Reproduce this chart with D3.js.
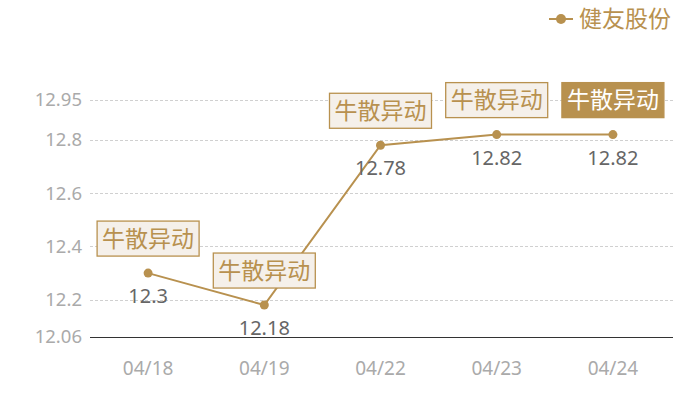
<!DOCTYPE html>
<html>
<head>
<meta charset="utf-8">
<script src="https://cdn.jsdelivr.net/npm/d3@7"></script>
<style>
html,body{margin:0;padding:0;background:#fff;}
svg{display:block;font-family:"Noto Sans CJK SC","Noto Sans",sans-serif;}
</style>
</head>
<body>
<svg id="chart" width="700" height="400"></svg>
<script>
const categories = ["04/18", "04/19", "04/22", "04/23", "04/24"];
const values = [12.3, 12.18, 12.78, 12.82, 12.82];
const yTicks = [12.06, 12.2, 12.4, 12.6, 12.8, 12.95];
const annotations = ["牛散异动", "牛散异动", "牛散异动", "牛散异动", "牛散异动"];
const highlighted = [false, false, false, false, true];
const seriesName = "健友股份";

const gold = "#B8914F";
const numFont = "'Noto Sans', 'Noto Sans CJK SC', sans-serif";
const W = 700, H = 400;
const m = {left: 90, right: 29, top: 100, bottom: 63};
const svg = d3.select("#chart");

const x = d3.scaleBand().domain(categories).range([m.left, W - m.right]);
const y = d3.scaleLinear().domain([12.06, 12.95]).range([H - m.bottom, m.top]);
const cx = d => x(d) + x.bandwidth() / 2;

// grid
svg.append("g").selectAll("line").data(yTicks.filter(t => t !== 12.06)).join("line")
  .attr("x1", m.left).attr("x2", W - m.right + 2)
  .attr("y1", d => Math.round(y(d)) + 0.5).attr("y2", d => Math.round(y(d)) + 0.5)
  .attr("stroke", "#d0d0d0").attr("stroke-width", 1).attr("stroke-dasharray", "3,2");

// y axis labels
const yAxis = d3.axisLeft(y).tickValues(yTicks).tickSize(0).tickPadding(8).tickFormat(d => String(d));
const gy = svg.append("g").attr("transform", `translate(${m.left},0)`).call(yAxis);
gy.select(".domain").remove();
gy.selectAll("text").attr("fill", "#aaaaaa").attr("font-size", 18.5)
  .attr("font-family", numFont);

// x axis
const xAxis = d3.axisBottom(x).tickSize(0).tickPadding(24);
const gx = svg.append("g").attr("transform", `translate(0,${Math.round(H - m.bottom) + 0.5})`).call(xAxis);
gx.select(".domain").attr("stroke", "#333").attr("stroke-width", 1).attr("d", `M${m.left},0H${W - m.right + 2}`);
gx.selectAll("text").attr("fill", "#aaaaaa").attr("font-size", 19)
  .attr("font-family", numFont);

// line
const data = categories.map((c, i) => ({c, v: values[i], a: annotations[i], h: highlighted[i]}));
svg.append("path").datum(data)
  .attr("d", d3.line().x(d => cx(d.c)).y(d => y(d.v)))
  .attr("fill", "none").attr("stroke", gold).attr("stroke-width", 2);

svg.append("g").selectAll("circle").data(data).join("circle")
  .attr("cx", d => cx(d.c)).attr("cy", d => y(d.v)).attr("r", 4.5).attr("fill", gold);

// value labels
svg.append("g").selectAll("text").data(data).join("text")
  .attr("x", d => cx(d.c)).attr("y", d => y(d.v) + 30)
  .attr("text-anchor", "middle").attr("font-size", 20).attr("fill", "#666")
  .attr("font-family", numFont)
  .text(d => String(d.v));

// annotation boxes
const ag = svg.append("g").selectAll("g").data(data).join("g")
  .attr("transform", d => `translate(${cx(d.c)},${y(d.v) - 17})`);
ag.append("rect")
  .attr("x", -51).attr("y", -35).attr("width", 102).attr("height", 35)
  .attr("fill", d => d.h ? gold : "#F5F0EA")
  .attr("stroke", gold).attr("stroke-width", 1.3);
ag.append("text")
  .attr("x", 0).attr("y", -9.5).attr("text-anchor", "middle")
  .attr("font-size", 23).attr("fill", d => d.h ? "#fff" : gold)
  .text(d => d.a);

// legend
const lg = svg.append("g").attr("transform", "translate(549,19)");
lg.append("line").attr("x1", 0).attr("x2", 24).attr("y1", 0).attr("y2", 0).attr("stroke", gold).attr("stroke-width", 2);
lg.append("circle").attr("cx", 12).attr("cy", 0).attr("r", 5).attr("fill", gold);
lg.append("text").attr("x", 30).attr("y", 8).attr("font-size", 23).attr("fill", gold).text(seriesName);
</script>
</body>
</html>
